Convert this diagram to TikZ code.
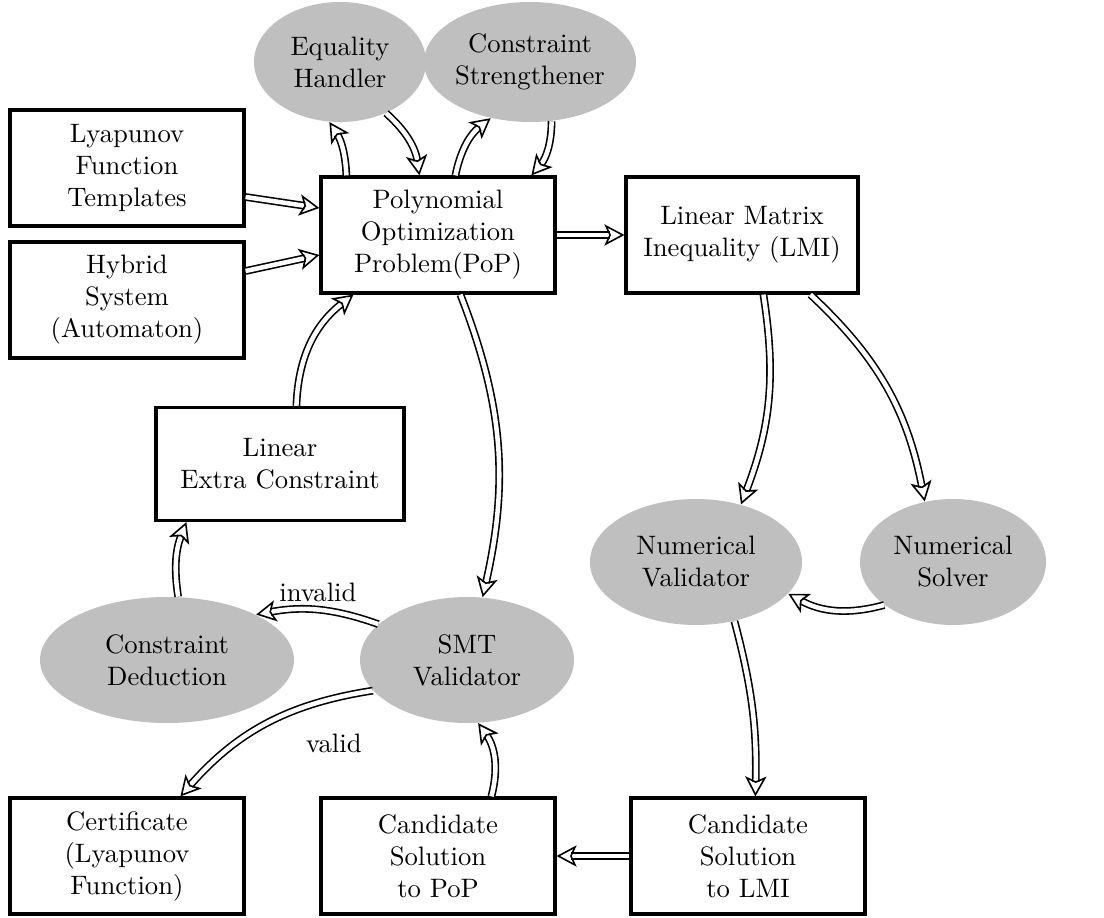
\documentclass[tikz,border=0pt]{standalone}
\usetikzlibrary{shapes.geometric,arrows.meta}
\newlength\pxu
\setlength\pxu{0.375pt}
\begin{document}
\begin{tikzpicture}[x=0.375pt,y=-0.375pt,
  box/.style={draw, very thick, rectangle, align=center, inner sep=0pt,
    minimum width=234\pxu, minimum height=116\pxu},
  blob/.style={ellipse, fill=gray!50, align=center, inner sep=0pt},
  flow/.style={double, double distance=1.7pt, line width=0.6pt,
    -{Stealth[open,length=7.5pt,width=8pt,inset=1.8pt]}},
  lbl/.style={inner sep=1pt}
]
\useasboundingbox (0,0) rectangle (1104,918);

% rectangular stages
\node[box] (lyap) at (127,168) {Lyapunov\\Function\\Templates};
\node[box] (hyb)  at (127,300) {Hybrid\\System\\(Automaton)};
\node[box] (pop)  at (438,235) {Polynomial\\Optimization\\Problem(PoP)};
\node[box, minimum width=232\pxu] (lmi) at (742,235) {Linear Matrix\\Inequality (LMI)};
\node[box, minimum width=248\pxu, minimum height=113\pxu] (lec) at (280,464) {Linear\\Extra Constraint};
\node[box] (cert) at (127,856) {Certificate\\(Lyapunov\\Function)};
\node[box] (cpop) at (438,856) {Candidate\\Solution\\to PoP};
\node[box] (clmi) at (748,856) {Candidate\\Solution\\to LMI};

% processing steps
\node[blob, minimum width=172\pxu, minimum height=120\pxu] (eqh) at (340,62) {Equality\\Handler};
\node[blob, minimum width=212\pxu, minimum height=120\pxu] (str) at (530,62) {Constraint\\Strengthener};
\node[blob, minimum width=212\pxu, minimum height=126\pxu] (nval) at (696,562) {Numerical\\Validator};
\node[blob, minimum width=186\pxu, minimum height=126\pxu] (nsol) at (953,562) {Numerical\\Solver};
\node[blob, minimum width=214\pxu, minimum height=126\pxu] (smt) at (467,660) {SMT\\Validator};
\node[blob, minimum width=254\pxu, minimum height=126\pxu] (ded) at (167,660) {Constraint\\Deduction};

% data flow
\draw[flow] ([yshift=-29\pxu]lyap.east) -- ([yshift=27\pxu]pop.west);
\draw[flow] ([yshift=29\pxu]hyb.east) -- ([yshift=-20\pxu]pop.west);
\draw[flow] ([xshift=27\pxu]pop.north west) to[bend right=15] (eqh.-100);
\draw[flow] (eqh.-48) to[bend left=20] ([xshift=100\pxu]pop.north west);
\draw[flow] ([xshift=136\pxu]pop.north west) to[bend left=20] (str.-125);
\draw[flow] (str.-70) to[bend left=20] ([xshift=212\pxu]pop.north west);
\draw[flow] (pop.east) -- (lmi.west);
\draw[flow] ([xshift=139\pxu]lmi.south west) to[bend left=15] (nval.52);
\draw[flow] ([xshift=186\pxu]lmi.south west) to[bend left=18] (nsol.115);
\draw[flow] (nsol.-148) to[bend left=22] (nval.-19);
\draw[flow] (nval.-57) to[bend left=8] ([xshift=126\pxu]clmi.north west);
\draw[flow] (clmi.west) -- (cpop.east);
\draw[flow] ([xshift=172\pxu]cpop.north west) to[bend right=25] (smt.-80);
\draw[flow] (smt.158) to[bend right=15] node[lbl, above=2pt] {invalid} (ded.27);
\draw[flow] (smt.-162) to[bend right=20] node[lbl, pos=0.45, below right=2pt, xshift=22\pxu, yshift=-6\pxu] {valid} ([xshift=172\pxu]cert.north west);
\draw[flow] (ded.80) to[bend left=15] ([xshift=32\pxu]lec.south west);
\draw[flow] ([xshift=142\pxu]lec.north west) to[bend left=25] ([xshift=34\pxu]pop.south west);
\draw[flow] ([xshift=141\pxu]pop.south west) to[bend left=17] (smt.76);
\end{tikzpicture}
\end{document}
